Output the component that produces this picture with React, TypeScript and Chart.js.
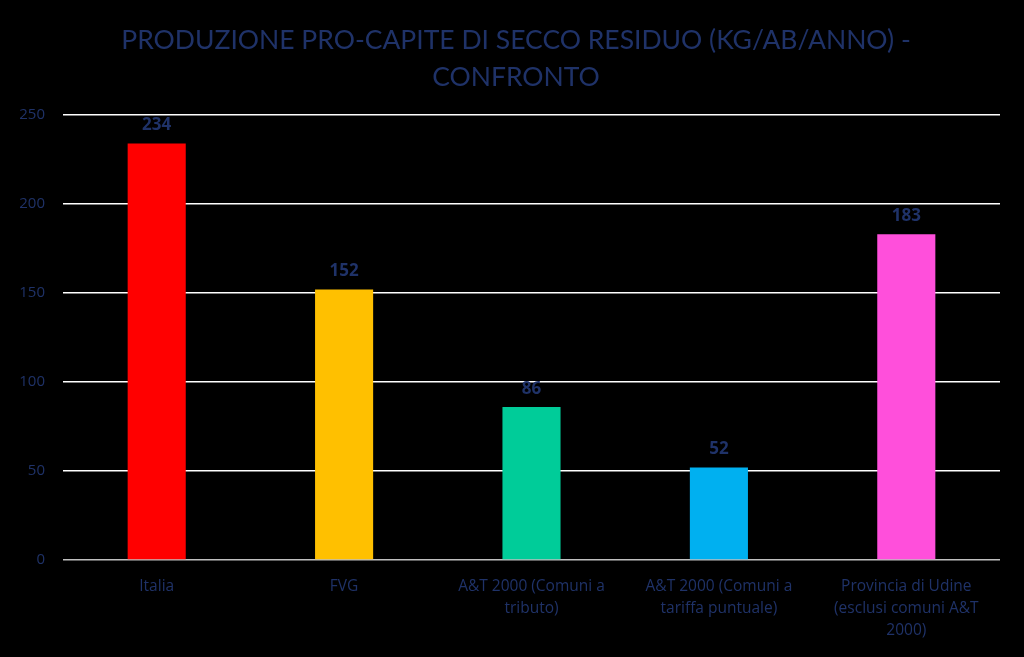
import React, { useEffect, useRef } from "react";
import { Chart, registerables } from "chart.js";

Chart.register(...registerables);

const categories: (string | string[])[] = [
  "Italia",
  "FVG",
  ["A&T 2000 (Comuni a", "tributo)"],
  ["A&T 2000 (Comuni a", "tariffa puntuale)"],
  ["Provincia di Udine", "(esclusi comuni A&T", "2000)"],
];
const values: number[] = [234, 152, 86, 52, 183];
const barColors: string[] = ["#FF0000", "#FFC000", "#00CC99", "#00B0F0", "#FF4FDB"];
const yTicks: number[] = [0, 50, 100, 150, 200, 250];
const titleLines: string[] = ["PRODUZIONE PRO-CAPITE DI SECCO RESIDUO (KG/AB/ANNO) -", "CONFRONTO"];

const TEXT_BLUE = "#1F3268";
const TITLE_FONT = "Lato, 'Open Sans', sans-serif";
const FONT = "'Open Sans', Lato, sans-serif";

const titlePlugin = {
  id: "customTitle",
  afterDraw(chart: any) {
    const ctx = chart.ctx;
    ctx.save();
    ctx.font = `26.5px ${TITLE_FONT}`;
    ctx.fillStyle = TEXT_BLUE;
    ctx.textAlign = "center";
    ctx.textBaseline = "middle";
    const cx = chart.width / 2 + 4;
    titleLines.forEach((line, i) => {
      ctx.fillText(line, cx, 40 + i * 37);
    });
    ctx.restore();
  },
};

const dataLabelPlugin = {
  id: "dataLabels",
  afterDatasetsDraw(chart: any) {
    const ctx = chart.ctx;
    const meta = chart.getDatasetMeta(0);
    ctx.save();
    ctx.font = `bold 17px ${FONT}`;
    ctx.fillStyle = TEXT_BLUE;
    ctx.textAlign = "center";
    ctx.textBaseline = "middle";
    meta.data.forEach((bar: any, i: number) => {
      ctx.fillText(String(values[i]), bar.x, bar.y - 18);
    });
    ctx.restore();
  },
};

export default function App() {
  const ref = useRef<HTMLCanvasElement>(null);
  useEffect(() => {
    document.body.style.margin = "0";
    document.body.style.background = "#000";
    const chart = new Chart(ref.current!, {
      type: "bar",
      data: {
        labels: categories,
        datasets: [
          {
            data: values,
            backgroundColor: barColors,
            categoryPercentage: 1,
            barPercentage: 0.31,
          },
        ],
      },
      options: {
        animation: false,
        responsive: false,
        layout: { padding: { left: 0, right: 24, top: 115, bottom: 0 } },
        plugins: {
          legend: { display: false },
          tooltip: { enabled: false },
          title: { display: false },
        },
        scales: {
          x: {
            grid: { display: false },
            border: { display: false },
            ticks: {
              color: TEXT_BLUE,
              font: { family: FONT, size: 15.5, lineHeight: 1.4 },
              maxRotation: 0,
              autoSkip: false,
              padding: 8,
            },
            afterFit: (s: any) => {
              s.height = 97;
            },
          },
          y: {
            min: 0,
            max: 250,
            afterBuildTicks: (s: any) => {
              s.ticks = yTicks.map((v) => ({ value: v }));
            },
            grid: {
              drawTicks: false,
              color: (c: any) => (c.tick && c.tick.value === 0 ? "#BFBFBF" : "#FFFFFF"),
              lineWidth: 1.5,
            },
            border: { display: false },
            ticks: {
              color: TEXT_BLUE,
              font: { family: FONT, size: 15 },
              padding: 18,
            },
            afterFit: (s: any) => {
              s.width = 63;
            },
          },
        },
      },
      plugins: [dataLabelPlugin, titlePlugin],
    });
    return () => chart.destroy();
  }, []);
  return <canvas ref={ref} width={1024} height={657} style={{ display: "block" }} />;
}
